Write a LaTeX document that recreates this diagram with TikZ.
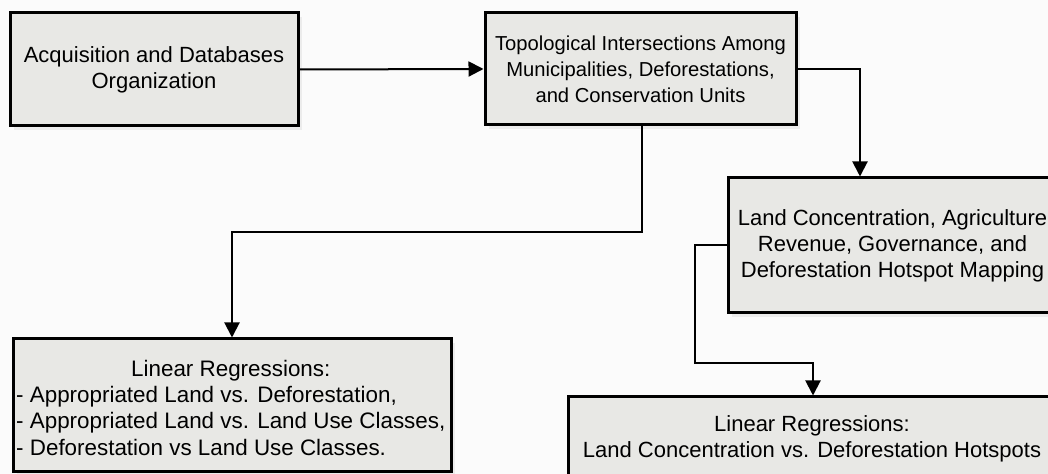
\documentclass[tikz,border=0pt]{standalone}
\usepackage{fontspec}
\setmainfont{Liberation Sans}
\usepackage{tikz}
\usetikzlibrary{arrows.meta, shadows, positioning}
\definecolor{boxgray}{RGB}{232,232,229}
\definecolor{paper}{RGB}{251,251,251}

\begin{document}
\begin{tikzpicture}[
			x=0.5pt, y=-0.5pt,
			every node/.style={
					draw,
					line width=1.5pt,
					fill=boxgray,
					inner sep=0pt,
					align=center,
					font=\fontsize{11}{13}\selectfont,
					drop shadow={opacity=0.12, shadow xshift=2pt, shadow yshift=-2pt}
				},
			link/.style={line width=1pt, -{Triangle[length=7.5pt, width=7.5pt]}}
		]
		% page and clipping
		\fill[paper] (0,0) rectangle (1048,474);
		\clip (0,0) rectangle (1048,474);

		\node[minimum width=144pt, minimum height=56.5pt] (n0) at (154, 69.5)
		{Acquisition and Databases\\Organization};
		\node[minimum width=155.5pt, minimum height=56pt,
			font=\fontsize{10.1}{13}\selectfont] (n1) at (640.5, 69)
		{Topological Intersections Among\\Municipalities, Deforestations,\\and Conservation Units};
		\node[minimum width=164.5pt, minimum height=67.5pt] (n2) at (892.5, 245.5)
		{Land Concentration, Agriculture\\Revenue, Governance, and\\Deforestation Hotspot Mapping};
		\node[minimum width=219pt, minimum height=66.5pt,
			font=\fontsize{11.2}{13.1}\selectfont] (n3) at (232, 405.5)
		{\kern-1.2pt\raisebox{-2.5pt}[\height][\depth]{\begin{tabular}{@{}l@{}}
				\multicolumn{1}{@{}c@{}}{Linear Regressions:}\\
				- Appropriated Land vs. Deforestation,\\
				- Appropriated Land vs. Land Use Classes,\\
				- Deforestation vs Land Use Classes.
			\end{tabular}}};
		\node[minimum width=244pt, minimum height=41.5pt] (n4) at (812, 438.5)
		{Linear Regressions:\\Land Concentration vs. Deforestation Hotspots};

		% connectors
		\coordinate (k1) at (860, 69);
		\coordinate (k2) at (642, 232);
		\coordinate (k3) at (232, 232);
		\coordinate (k4) at (695, 245.5);
		\coordinate (k5) at (695, 363);
		\coordinate (k6) at (813, 363);

		\draw[link] (n0.east) -- (n1.west);
		\draw[link] (n1.east) -- (k1) -- (n2.north -| k1);
		\draw[link] (n1.south -| k2) -- (k2) -- (k3) -- (n3.north);
		\draw[link] (n2.west) -- (k4) -- (k5) -- (k6) -- (n4.north -| k6);
	\end{tikzpicture}
\end{document}
